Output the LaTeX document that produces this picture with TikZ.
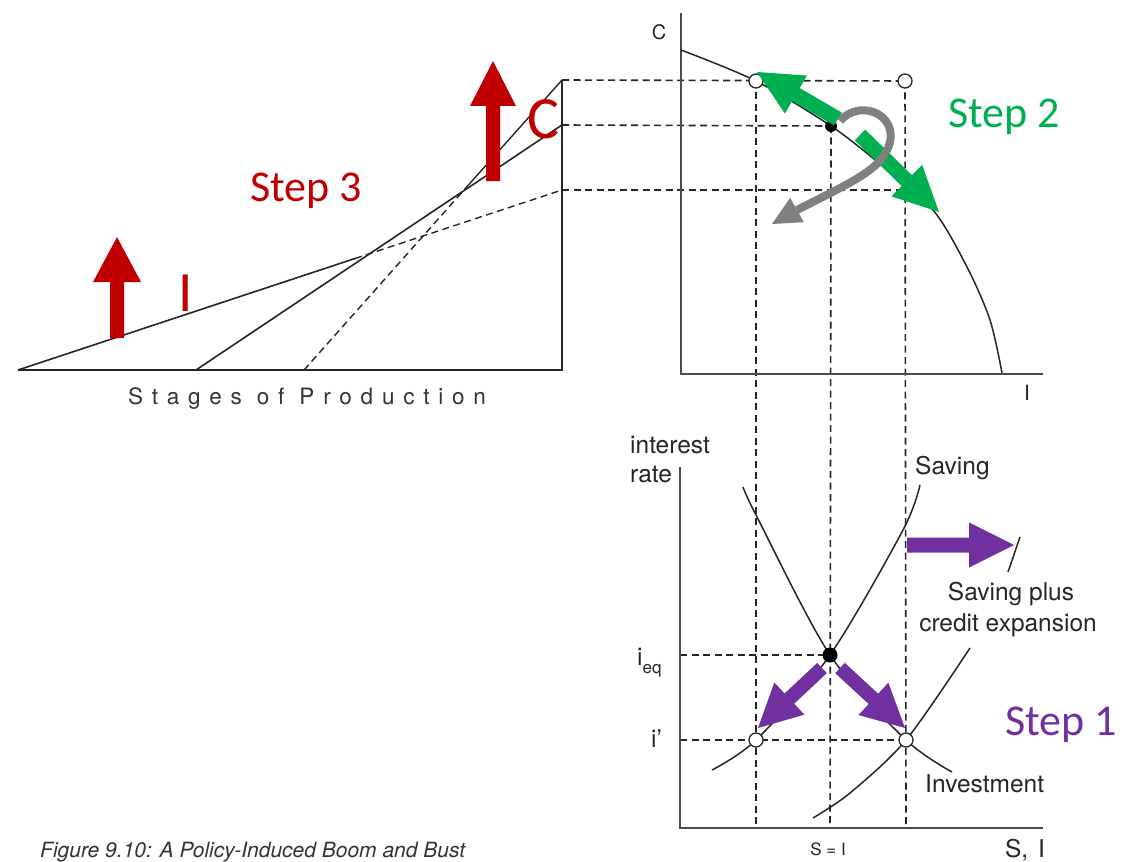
\documentclass[tikz,border=0pt]{standalone}
\usepackage{fontspec}
\setmainfont{TeX Gyre Heros}
\newfontfamily\stepfont{Carlito}
\newfontfamily\spacedfont[LetterSpace=39]{TeX Gyre Heros}
\usetikzlibrary{calc}
\definecolor{stepred}{HTML}{C00000}
\definecolor{stepgreen}{HTML}{00B050}
\definecolor{steppurple}{HTML}{7030A0}
\definecolor{loopgray}{HTML}{808080}
\newcommand{\fatarrow}[6]{%
  \coordinate (fah) at ($(#3)!#6!(#2)$);
  \fill[#1] ($(#2)!#4!90:(#3)$) -- ($(fah)!#4!90:(#3)$) -- ($(fah)!#5!90:(#3)$) -- (#3)
    -- ($(fah)!#5!270:(#3)$) -- ($(fah)!#4!270:(#3)$) -- ($(#2)!#4!270:(#3)$) -- cycle;}
\begin{document}
\begin{tikzpicture}[x=1pt,y=-1pt,
  axisline/.style={draw=black!70, line width=2.2pt},
  triline/.style={draw=black!85, line width=1.6pt},
  curveline/.style={draw=black!85, line width=1.5pt},
  guide/.style={draw=black!85, line width=1.6pt, dash pattern=on 7pt off 4.5pt},
  opendot/.style={circle, draw=black!85, fill=white, line width=1.3pt, minimum size=14pt, inner sep=0pt},
  fulldot/.style={circle, fill=black, minimum size=#1, inner sep=0pt},
  lbl/.style={text=black!85, inner sep=0pt, font=\fontsize{24.5}{28}\selectfont},
  steplbl/.style={inner sep=0pt, font=\stepfont\fontsize{44}{48}\selectfont}]
\useasboundingbox (0,0) rectangle (1123,861);
\fill[white] (0,0) rectangle (1123,861);

% ---------- coordinates ----------
\coordinate (L0) at (18,370);
\coordinate (LR) at (562,370);
\coordinate (LT) at (562,80);
\coordinate (LC) at (562,125);
\coordinate (LS) at (562,190);
\coordinate (Ishort) at (355,258.5);
\coordinate (Bbase) at (196,370);
\coordinate (Sbase) at (304,370);
\coordinate (Smid) at (468,185.5);

\coordinate (TO) at (681,374);
\coordinate (TY) at (681,13);
\coordinate (TX) at (1043,374);
\coordinate (BO) at (680,828);
\coordinate (BY) at (680,467);
\coordinate (BX) at (1043,828);
\coordinate (BYe) at (680,655);
\coordinate (BYi) at (680,740);

\coordinate (qa) at (756,81);
\coordinate (qb) at (905,81);
\coordinate (qc) at (831,126);
\coordinate (qd) at (905,190);
\coordinate (ra) at (756,740);
\coordinate (rb) at (906,740);
\coordinate (rc) at (830,655);
\coordinate (fa) at (756,828);
\coordinate (fb) at (906,828);
\coordinate (fc) at (830,828);

% ---------- guides ----------
\draw[guide] (LT) -- (qb);
\draw[guide] (LC) -- (qc);
\draw[guide] (LS) -- (qd);
\draw[guide] (qa) -- (fa);
\draw[guide] (qc) -- (fc);
\draw[guide] (qb) -- (fb);
\draw[guide] (BYe) -- (rc);
\draw[guide] (BYi) -- (rb);

% ---------- left panel ----------
\draw[triline] (L0) -- (Ishort);
\draw[guide, line width=1.4pt] (Ishort) -- (LS);
\draw[triline] (Bbase) -- (LC);
\draw[guide, line width=1.4pt] (Sbase) -- (Smid);
\draw[triline, line width=1.4pt] (Smid) -- (LT);
\draw[draw=black!85, line width=2.4pt] (L0) -- (LR) -- (LT);

% ---------- axes ----------
\draw[axisline] (TY) -- (TO) -- (TX);
\draw[axisline] (BY) -- (BO) -- (BX);

% ---------- curves ----------
\draw[curveline] plot[smooth] coordinates {(681,50) (756,81) (831,126) (880,164) (933,210) (967,267) (990,320) (1002,373)};
\draw[curveline] plot[smooth] coordinates {(712,770) (756,740) (830,655) (903,530) (920,485)};
\draw[curveline] plot[smooth] coordinates {(743,487) (757,517) (830,655) (906,740) (952,772)};
\draw[curveline] plot[smooth] coordinates {(813,818) (850,793) (906,740) (970,648)};
\coordinate (sce1) at (1008,572);
\coordinate (sce2) at (1020,537);
\draw[curveline] (sce1) -- (sce2);

% ---------- dots ----------
\node[opendot] (pa) at (qa) {};
\node[opendot] (pb) at (qb) {};
\node[fulldot=12pt] (pc) at (qc) {};
\node[opendot] (pra) at (ra) {};
\node[opendot] (prb) at (rb) {};
\node[fulldot=15pt] (prc) at (rc) {};

% ---------- green arrows (Step 2) ----------
\coordinate (g1s) at (838,119);
\coordinate (g1t) at (757,72);
\coordinate (g2s) at (860,135);
\coordinate (g2t) at (939,212);
\fatarrow{stepgreen}{g1s}{g1t}{7.5pt}{22pt}{45pt}
\fatarrow{stepgreen}{g2s}{g2t}{7.5pt}{22pt}{45pt}

% ---------- gray loop ----------
\coordinate (gs) at (840,121);
\coordinate (gb) at (797,210);
\coordinate (gt) at (772,224);
\draw[draw=loopgray, line width=8pt] (gs) .. controls (862,96) and (905,118) .. (886,152)
   .. controls (875,172) and (850,183) .. (gb);
\fill[loopgray] ($(gb)!14pt!90:(gt)$) -- (gt) -- ($(gb)!14pt!270:(gt)$) -- cycle;

% ---------- purple arrows (Step 1) ----------
\coordinate (h1s) at (907,545);
\coordinate (h1t) at (1014,545);
\coordinate (d1s) at (822,668);
\coordinate (d1t) at (758,728);
\coordinate (d2s) at (840,668);
\coordinate (d2t) at (905,728);
\fatarrow{steppurple}{h1s}{h1t}{7.5pt}{22.5pt}{45pt}
\fatarrow{steppurple}{d1s}{d1t}{7pt}{22pt}{43pt}
\fatarrow{steppurple}{d2s}{d2t}{7pt}{22pt}{43pt}

% ---------- red arrows (Step 3) ----------
\coordinate (r1s) at (117,338);
\coordinate (r1t) at (117,237);
\coordinate (r2s) at (493,181);
\coordinate (r2t) at (493,61);
\fatarrow{stepred}{r1s}{r1t}{7pt}{24pt}{45pt}
\fatarrow{stepred}{r2s}{r2t}{7pt}{23pt}{45pt}

% ---------- labels ----------
\node[lbl, anchor=base, font=\fontsize{20}{22}\selectfont] (cl) at (659,40) {C};
\node[lbl, anchor=base, font=\fontsize{21}{22}\selectfont] (il) at (1027,400) {I};
\node[lbl, anchor=base west] (int1) at (630,453) {interest};
\node[lbl, anchor=base west] (int2) at (630,482) {rate};
\node[lbl, anchor=base west] (sav) at (915,474) {Saving};
\node[lbl, anchor=base] (spc1) at (1011,600) {Saving plus};
\node[lbl, anchor=base] (spc2) at (1008,631) {credit expansion};
\node[lbl, anchor=base west] (inv) at (925,792) {Investment};
\node[lbl, anchor=base, font=\fontsize{17}{20}\selectfont] (si) at (828,855) {S = I};
\node[lbl, anchor=base] (sil) at (1025,857) {S,\hspace{10pt}I};
\node[lbl, anchor=base west] (ieq) at (637,665) {i\raisebox{-8pt}{\fontsize{17}{17}\selectfont eq}};
\node[lbl, anchor=base west] (ip) at (651,747) {i'};
\node[anchor=base, inner sep=0pt, text=black!80, font=\spacedfont\fontsize{22.5}{24}\selectfont] (stages) at (307,404) {Stages of Production};
\node[anchor=base west, inner sep=0pt, text=black!80, font=\itshape\fontsize{21}{22}\selectfont] (caption) at (40,857) {Figure 9.10: A Policy-Induced Boom and Bust};

\node[steplbl, text=stepred, anchor=base west] (s3) at (250,201) {Step 3};
\node[steplbl, text=stepgreen, anchor=base west] (s2) at (948,128) {Step 2};
\node[steplbl, text=steppurple, anchor=base west] (s1) at (1005,735) {Step 1};
\node[inner sep=0pt, text=stepred, font=\stepfont\fontsize{60}{60}\selectfont, anchor=base west] (cred) at (527,139) {C};
\node[inner sep=0pt, text=stepred, font=\stepfont\fontsize{57}{57}\selectfont, anchor=base west] (ired) at (178,311) {I};
\end{tikzpicture}
\end{document}
